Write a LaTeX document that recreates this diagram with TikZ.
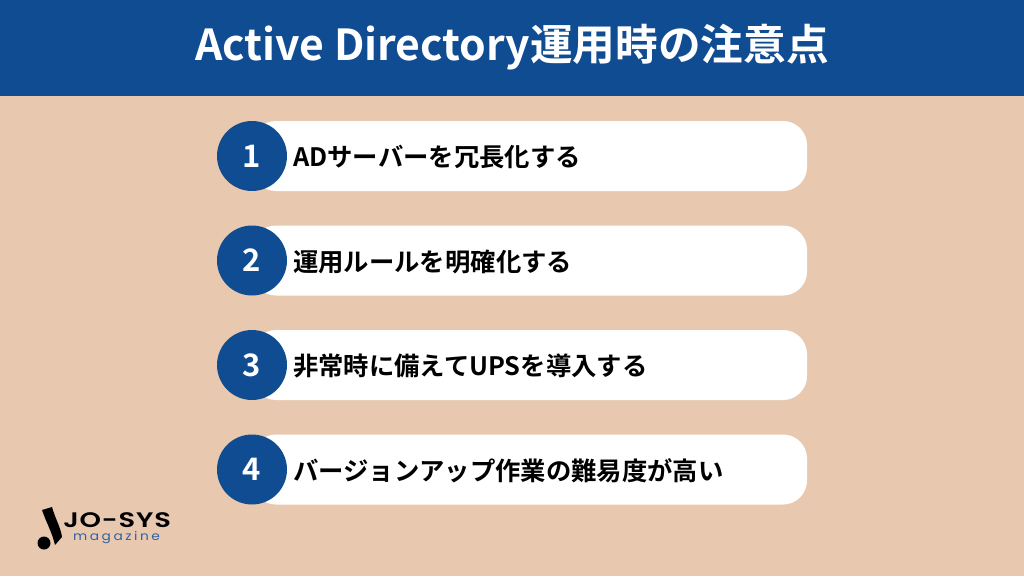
\documentclass[tikz,border=0pt]{standalone}
\usepackage{fontspec}
\usetikzlibrary{positioning}
\setmainfont{Noto Sans CJK JP}[BoldFont={* Bold}]
\newfontfamily\logofont{Poppins}[BoldFont={* SemiBold}]
\definecolor{headblue}{HTML}{0F4C92}
\definecolor{sand}{HTML}{E8C9B0}
\definecolor{logoblue}{HTML}{2F62A8}

\begin{document}
\begin{tikzpicture}[
  x=1pt, y=-1pt,
  nbar/.style={fill=white, rounded corners=24pt, minimum width=555pt, minimum height=70pt, inner sep=0pt},
  nnum/.style={circle, fill=headblue, text=white, minimum size=70pt, inner sep=0pt, font=\fontsize{31}{31}\selectfont\bfseries},
  nitem/.style={inner sep=0pt, font=\fontsize{25.35}{25.35}\selectfont\bfseries, text=black},
  ntitle/.style={inner sep=0pt, text=white, font=\fontsize{42.7}{42.7}\selectfont\bfseries}
 ]
  \useasboundingbox (0,0) rectangle (1024,576);
  \fill [sand] (0,0) rectangle (1024,576);
  \fill [headblue] (0,0) rectangle (1024,96);
  \node [ntitle] (title) at (512,47) {Active Directory運用時の注意点};

  \foreach \r/\y/\t in {1/156/ADサーバーを冗長化する,2/260.5/運用ルールを明確化する,3/365/非常時に備えてUPSを導入する,4/469.5/バージョンアップ作業の難易度が高い} {
   \node [nbar] (bar\r) at (529.5,\y) {};
   \node [nnum] (num\r) at (252,\y) {\raisebox{-1pt}{\r}};
   \node [nitem, anchor=west] (item\r) at (293,\y+1) {\t};
  }

  % logo
  \fill [black] (42,510) -- (52,507) .. controls (55,518) and (61,528) .. (62,537) -- (55,545) .. controls (52,532) and (46,522) .. (42,510) -- cycle;
  \fill [black] (44,543) circle (6.5);
  \node [inner sep=0pt, anchor=base west, text height=15pt, text depth=0pt, xscale=1.3, font=\fontsize{21}{21}\selectfont\logofont\bfseries] (logo) at (63,527) {\addfontfeature{LetterSpace=3}JO-SYS};
  \node [inner sep=0pt, anchor=base west, text height=8pt, text depth=0pt, xscale=1.15, text=logoblue, font=\fontsize{12}{12}\selectfont\logofont] (mag) at (73,540) {\addfontfeature{LetterSpace=18}magazine};
 \end{tikzpicture}
\end{document}
